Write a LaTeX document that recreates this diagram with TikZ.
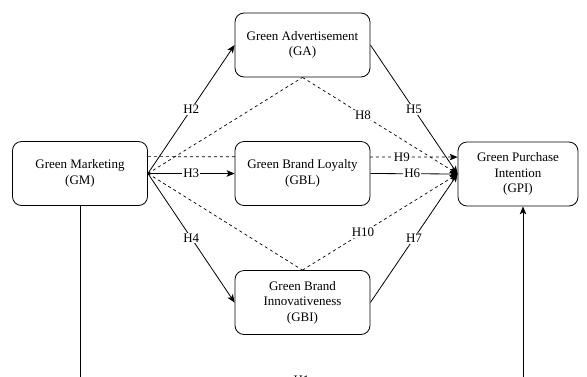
\documentclass[tikz,border=0pt]{standalone}
\usepackage{fontspec}
\setmainfont{Liberation Serif}
\usetikzlibrary{arrows.meta,backgrounds,calc}
\begin{document}
\begin{tikzpicture}[x=1pt,y=-1pt,
  box/.style={draw,fill=white,rounded corners=9pt,minimum width=135pt,minimum height=64pt,align=center,font=\fontsize{13}{15.5}\selectfont,line width=0.8pt,inner sep=2pt},
  conn/.style={line width=0.8pt,-{Stealth[length=8pt,width=6.5pt,inset=2pt]}},
  dsh/.style={line width=0.7pt,dash pattern=on 3pt off 3pt},
  lbl/.style={fill=white,inner sep=1pt,font=\fontsize{13}{15}\selectfont}]
\useasboundingbox (0,0) rectangle (587,376);
\clip (0,0) rectangle (587,376);
\node[box] (GM) at (80,173.5) {Green Marketing\\(GM)};
\node[box] (GA) at (302.5,45) {Green Advertisement\\(GA)};
\node[box] (GBL) at (302.5,173.5) {Green Brand Loyalty\\(GBL)};
\node[box] (GBI) at (302.5,302.5) {Green Brand\\Innovativeness\\(GBI)};
\node[box,minimum width=120pt] (GPI) at (518,174) {Green Purchase\\Intention\\(GPI)};
\begin{scope}[on background layer]
\fill[white] (0,0) rectangle (587,376);
\draw[conn] (GM.east) -- node[lbl]{H2} (GA.west);
\draw[conn] (GM.east) -- node[lbl]{H3} (GBL.west);
\draw[conn] (GM.east) -- node[lbl]{H4} (GBI.west);
\draw[conn] (GA.east) -- node[lbl]{H5} (GPI.west);
\draw[conn] (GBL.east) -- node[lbl,pos=0.48]{H6} (GPI.west);
\draw[conn] (GBI.east) -- node[lbl]{H7} (GPI.west);
\draw[dsh] (GM.east) -- (GA.south);
\draw[dsh,-{Stealth[length=8pt,width=6.5pt,inset=2pt]}] (GA.south) -- node[lbl,pos=0.39]{H8} (GPI.west);
\draw[dsh] (GM.east) -- (GBI.north);
\draw[dsh,-{Stealth[length=8pt,width=6.5pt,inset=2pt]}] (GBI.north) -- node[lbl,pos=0.39]{H10} (GPI.west);
\draw[dsh,-{Stealth[length=8pt,width=6.5pt,inset=2pt]}] ($(GM.north east)+(0,15.5)$) -- node[lbl,pos=0.82]{H9} ($(GPI.north west)+(0,15.5)$);
\draw[conn] (GM.south) -- ++(0,174) -| node[lbl,pos=0.25]{H1} ($(GPI.south)+(5,0)$);
\end{scope}
\end{tikzpicture}
\end{document}
